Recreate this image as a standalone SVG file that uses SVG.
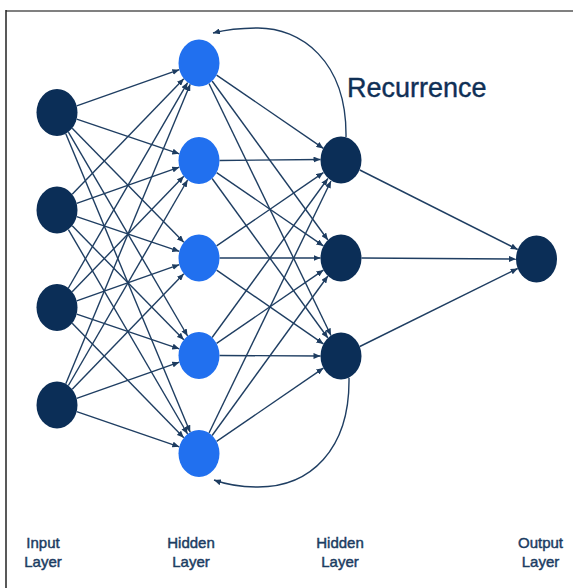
<svg xmlns="http://www.w3.org/2000/svg" width="573" height="588" viewBox="0 0 573 588">
<defs>
<marker id="ah" markerUnits="userSpaceOnUse" markerWidth="8" markerHeight="6" refX="7" refY="3" orient="auto">
<path d="M0,0 L7,3 L0,6 Z" fill="#1d3c60"/>
</marker>
<style>
.e{stroke:#1f3e62;stroke-width:1.4;fill:none;marker-end:url(#ah)}
.dk{fill:#0b2e57}
.bl{fill:#2170ef}
.lbl{font-family:"Liberation Sans",Arial,sans-serif;font-size:15px;fill:#1b3c62;stroke:#1b3c62;stroke-width:0.45;text-anchor:middle}
</style>
</defs>
<rect width="573" height="588" fill="#fff"/>
<line x1="6" y1="11" x2="573" y2="11" stroke="#808080" stroke-width="2"/>
<line x1="6" y1="10" x2="6" y2="588" stroke="#222" stroke-width="1.5"/>
<g id="connectors">
<line class="e" x1="76.7" y1="105.8" x2="179.3" y2="69.7"/>
<line class="e" x1="76.7" y1="119.2" x2="179.3" y2="153.8"/>
<line class="e" x1="72.2" y1="128.3" x2="183.8" y2="242.2"/>
<line class="e" x1="68.4" y1="132.1" x2="187.6" y2="336"/>
<line class="e" x1="65.8" y1="133.7" x2="190.2" y2="432.3"/>
<line class="e" x1="72.2" y1="194.3" x2="183.8" y2="78.8"/>
<line class="e" x1="76.7" y1="203.3" x2="179.3" y2="167.2"/>
<line class="e" x1="76.7" y1="216.7" x2="179.3" y2="251.3"/>
<line class="e" x1="72.2" y1="225.8" x2="183.8" y2="339.8"/>
<line class="e" x1="68.4" y1="229.6" x2="187.6" y2="434"/>
<line class="e" x1="68.4" y1="288" x2="187.6" y2="82.6"/>
<line class="e" x1="72.2" y1="291.8" x2="183.8" y2="176.3"/>
<line class="e" x1="76.7" y1="300.8" x2="179.3" y2="264.7"/>
<line class="e" x1="76.7" y1="314.2" x2="179.3" y2="348.8"/>
<line class="e" x1="72.2" y1="323.3" x2="183.8" y2="437.8"/>
<line class="e" x1="65.8" y1="383.8" x2="190.2" y2="84.2"/>
<line class="e" x1="68.4" y1="385.5" x2="187.6" y2="180"/>
<line class="e" x1="72.2" y1="389.3" x2="183.8" y2="273.8"/>
<line class="e" x1="76.7" y1="398.3" x2="179.3" y2="362.2"/>
<line class="e" x1="76.7" y1="411.7" x2="179.3" y2="446.8"/>
<line class="e" x1="216.6" y1="75.1" x2="323.4" y2="148.4"/>
<line class="e" x1="212.1" y1="81" x2="327.9" y2="240"/>
<line class="e" x1="209" y1="83.5" x2="331" y2="335.5"/>
<line class="e" x1="219.5" y1="160.5" x2="320.5" y2="159.5"/>
<line class="e" x1="216.6" y1="172.6" x2="323.4" y2="245.9"/>
<line class="e" x1="212.1" y1="178.5" x2="327.9" y2="338"/>
<line class="e" x1="216.6" y1="245.9" x2="323.4" y2="172.6"/>
<line class="e" x1="219.5" y1="258" x2="320.5" y2="258"/>
<line class="e" x1="216.6" y1="270.1" x2="323.4" y2="343.9"/>
<line class="e" x1="212.1" y1="337.5" x2="327.9" y2="178.5"/>
<line class="e" x1="216.6" y1="343.4" x2="323.4" y2="270.1"/>
<line class="e" x1="219.5" y1="355.5" x2="320.5" y2="356"/>
<line class="e" x1="209" y1="433" x2="331" y2="181"/>
<line class="e" x1="212.1" y1="435.5" x2="327.9" y2="276"/>
<line class="e" x1="216.6" y1="441.4" x2="323.4" y2="368.1"/>
<line class="e" x1="359.8" y1="170" x2="517.7" y2="249.5"/>
<line class="e" x1="361.5" y1="258" x2="516" y2="259"/>
<line class="e" x1="359.8" y1="346.5" x2="517.7" y2="268.5"/>
<path class="e" d="M346,137 C347,60 300,28 258,28 C240,28 225,30 213,33"/>
<path class="e" d="M349,378 C350,450 310,487 258,487 C240,487 225,484 214,480"/>
</g>
<g id="input-1"><ellipse class="dk" cx="57" cy="112.5" rx="20.5" ry="23.5"/></g>
<g id="input-2"><ellipse class="dk" cx="57" cy="210" rx="20.5" ry="23.5"/></g>
<g id="input-3"><ellipse class="dk" cx="57" cy="307.5" rx="20.5" ry="23.5"/></g>
<g id="input-4"><ellipse class="dk" cx="57" cy="405" rx="20.5" ry="23.5"/></g>
<g id="hidden1-1"><ellipse class="bl" cx="199" cy="63" rx="20.5" ry="23.5"/></g>
<g id="hidden1-2"><ellipse class="bl" cx="199" cy="160.5" rx="20.5" ry="23.5"/></g>
<g id="hidden1-3"><ellipse class="bl" cx="199" cy="258" rx="20.5" ry="23.5"/></g>
<g id="hidden1-4"><ellipse class="bl" cx="199" cy="355.5" rx="20.5" ry="23.5"/></g>
<g id="hidden1-5"><ellipse class="bl" cx="199" cy="453.5" rx="20.5" ry="23.5"/></g>
<g id="hidden2-1"><ellipse class="dk" cx="341" cy="160" rx="20.5" ry="23.5"/></g>
<g id="hidden2-2"><ellipse class="dk" cx="341" cy="258" rx="20.5" ry="23.5"/></g>
<g id="hidden2-3"><ellipse class="dk" cx="341" cy="356" rx="20.5" ry="23.5"/></g>
<g id="output-1"><ellipse class="dk" cx="536.5" cy="259" rx="20.5" ry="23.5"/></g>
<g id="recurrence-label"><text x="347" y="97" font-family="Liberation Sans, Arial, sans-serif" font-size="27" fill="#0f3056" stroke="#0f3056" stroke-width="0.4">Recurrence</text></g>
<g id="labels">
<text class="lbl" x="43" y="548">Input</text>
<text class="lbl" x="43" y="567">Layer</text>
<text class="lbl" x="191" y="548">Hidden</text>
<text class="lbl" x="191" y="567">Layer</text>
<text class="lbl" x="340" y="548">Hidden</text>
<text class="lbl" x="340" y="567">Layer</text>
<text class="lbl" x="540.5" y="548">Output</text>
<text class="lbl" x="540.5" y="567">Layer</text>
</g>
</svg>
